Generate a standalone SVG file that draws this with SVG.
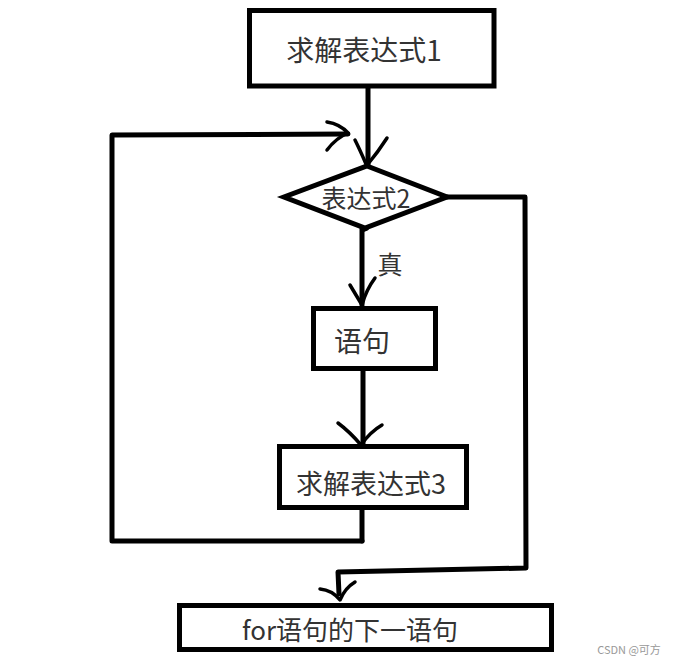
<svg xmlns="http://www.w3.org/2000/svg" width="678" height="664" viewBox="0 0 678 664">
<style>
.box{fill:#fff;stroke:#000;stroke-width:5}
.ln{fill:none;stroke:#000;stroke-width:5;stroke-linejoin:round;stroke-linecap:round}
.hd{fill:none;stroke:#000;stroke-width:3.5;stroke-linecap:round;stroke-linejoin:round}
.t{font-family:"Noto Sans CJK SC","Noto Sans",sans-serif;fill:#333;text-anchor:middle;dominant-baseline:central}
</style>
<rect width="678" height="664" fill="#fff"/>
<g id="connectors">
<polyline class="ln" points="368,88 368,165"/>
<path class="hd" d="M355,140 Q360,150 366,164 M387,138 Q378,152 368,164"/>
<polyline class="ln" points="362,541 112,541 112,135 348,134"/>
<path class="hd" d="M327,122 Q340,124 348,133 Q336,138 327,150"/>
<polyline class="ln" points="447,197 525,197 526,568 338,572 339,594"/>
<path class="hd" d="M320,589 Q332,590 340,600 Q345,588 355,582"/>
<polyline class="ln" points="362,229 362,305"/>
<path class="hd" d="M362,231 L367,229"/>
<path class="hd" d="M350,285 Q356,295 362,305 Q366,290 375,278"/>
<polyline class="ln" points="363,370 363,446"/>
<path class="hd" d="M338,423 Q350,432 361,445 Q370,432 382,425"/>
<polyline class="ln" points="362,508 362,541"/>
</g>
<g id="n1">
<rect class="box" x="249.5" y="10.5" width="244.5" height="75.5"/>
<text class="t" x="364" y="49" font-size="28">求解表达式1</text>
</g>
<g id="n2">
<polygon class="box" points="367,166 447,197 365,228 284,197"/>
<text class="t" x="366" y="197" font-size="25">表达式2</text>
</g>
<g id="label-true">
<text class="t" x="390" y="263" font-size="25">真</text>
</g>
<g id="n3">
<rect class="box" x="313.5" y="308.5" width="122" height="60"/>
<text class="t" x="362" y="340" font-size="28">语句</text>
</g>
<g id="n4">
<rect class="box" x="279.5" y="446.5" width="187" height="61"/>
<text class="t" x="371" y="482" font-size="27">求解表达式3</text>
</g>
<g id="n5">
<rect class="box" x="179.5" y="605.5" width="372" height="44"/>
<text class="t" x="350" y="628" font-size="26">for语句的下一语句</text>
</g>
<text x="629" y="649" font-family="'Noto Sans CJK SC',sans-serif" font-size="11" fill="#999" text-anchor="middle" dominant-baseline="central">CSDN @可方</text>
</svg>
